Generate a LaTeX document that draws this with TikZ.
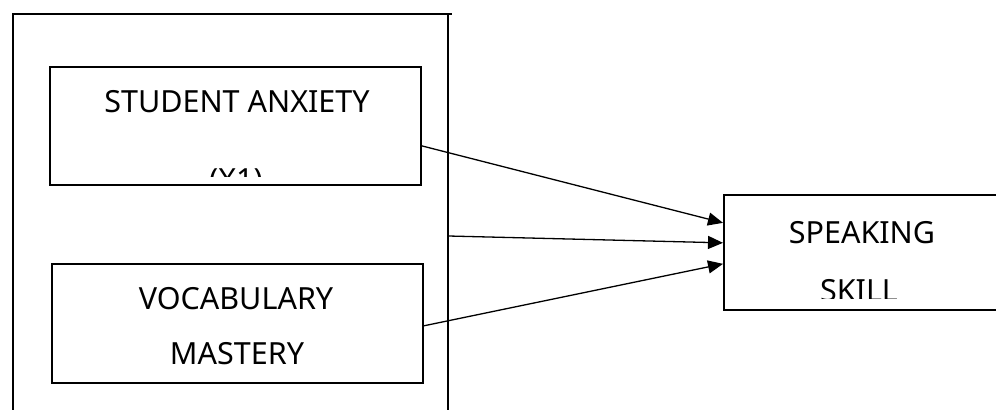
\documentclass[tikz,border=0pt]{standalone}
\usepackage{fontspec}
\setmainfont{Noto Sans}
\usetikzlibrary{arrows.meta}
\begin{document}
\begin{tikzpicture}[x=1pt,y=1pt,
  boxst/.style={draw, line width=1.7pt, inner sep=0pt},
  lbl/.style={anchor=base, inner sep=0pt, font=\fontsize{30.5}{34}\selectfont},
  frame/.style={line width=1.5pt},
  conn/.style={line width=1.3pt, -{Triangle[length=15pt,width=13pt]}}]
\clip (0,0) rectangle (996,419);
% outer frame
\coordinate (ftl) at (12,405);
\coordinate (ftr) at (452,405);
\coordinate (fl) at (13,405);
\coordinate (flb) at (13,9);
\coordinate (fr) at (448,405);
\coordinate (frb) at (448,9);
\draw[frame] (ftl) -- (ftr);
\draw[frame] (fl) -- (flb);
\draw[frame] (fr) -- (frb);
% boxes
\node[boxst, anchor=north west, minimum width=371pt, minimum height=118pt] (b1) at (49,353) {};
\node[boxst, anchor=north west, minimum width=371pt, minimum height=119pt] (b2) at (51,156) {};
\node[boxst, anchor=north west, minimum width=300pt, minimum height=115pt] (sk) at (723,225) {};
% texts
\node[lbl] (t1) at (237,306) {STUDENT ANXIETY};
\begin{scope}
\clip (60,242.5) rectangle (410,260);
\node[lbl] (t1b) at (236,228) {(X1)};
\end{scope}
\node[lbl] (t2) at (236,109) {VOCABULARY};
\node[lbl] (t2b) at (237,54) {MASTERY};
\node[lbl] (t3) at (862,175) {SPEAKING};
\begin{scope}
\clip (730,120) rectangle (990,150);
\node[lbl] (t3b) at (859,117) {SKILL};
\end{scope}
% connectors
\coordinate (m) at (448,183);
\draw[conn] ([yshift=-20pt]b1.east) -- ([yshift=29.5pt]sk.west);
\draw[conn] (m) -- ([yshift=9.5pt]sk.west);
\draw[conn] ([yshift=-2.5pt]b2.east) -- ([yshift=-11.5pt]sk.west);
\end{tikzpicture}
\end{document}
